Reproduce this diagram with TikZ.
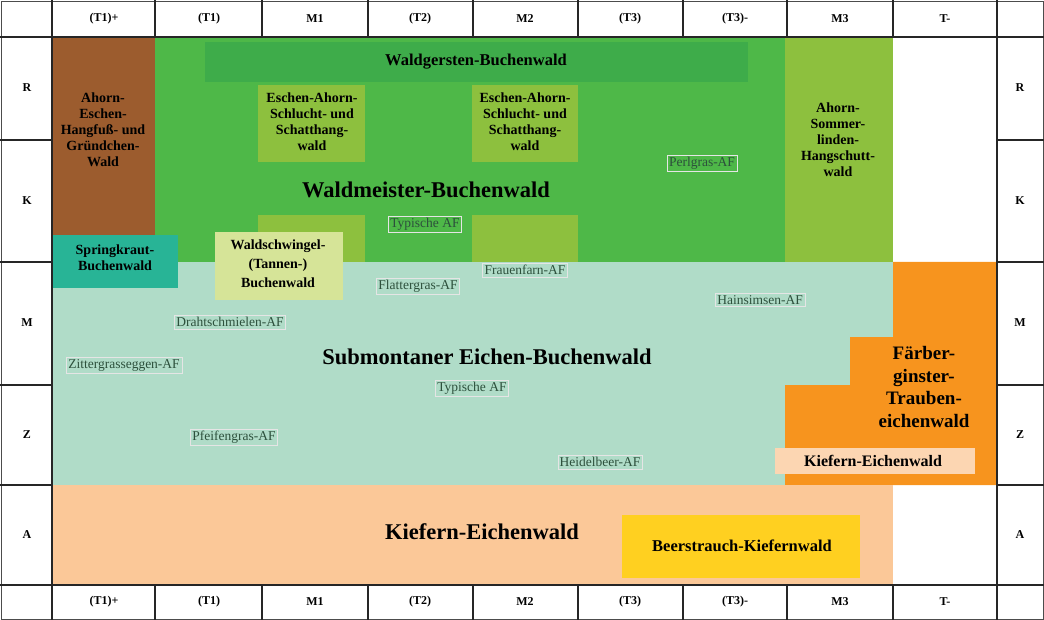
\documentclass[tikz,border=0pt]{standalone}
\usepackage{fontspec}
\setmainfont{Liberation Serif}
\usetikzlibrary{positioning}

\definecolor{brownwald}{RGB}{156,92,46}
\definecolor{buchegreen}{RGB}{78,184,72}
\definecolor{gerstegreen}{RGB}{62,172,74}
\definecolor{olivegreen}{RGB}{141,192,62}
\definecolor{paleblue}{RGB}{176,220,200}
\definecolor{tealwald}{RGB}{40,180,150}
\definecolor{paleyellow}{RGB}{214,228,152}
\definecolor{orangewald}{RGB}{247,148,30}
\definecolor{peachwald}{RGB}{251,200,152}
\definecolor{lightpeach}{RGB}{252,214,178}
\definecolor{beeryellow}{RGB}{255,208,32}
\definecolor{afgray}{RGB}{45,80,60}

\begin{document}
\begin{tikzpicture}[x=1pt, y=-1pt,
    unit/.style={font=\fontsize{14}{16}\selectfont\bfseries, align=center, inner sep=0pt},
    big/.style={font=\fontsize{22.5}{26}\selectfont\bfseries, inner sep=0pt},
    af/.style={font=\fontsize{13.5}{15}\selectfont, text=afgray, draw=black!10, line width=0.3pt, inner sep=2pt},
    axis/.style={font=\fontsize{12}{14}\selectfont\bfseries, inner sep=0pt},
    grid/.style={black!85, line width=1.6pt}]
    \useasboundingbox (0,0) rectangle (1044,620);

    % Waldmeister-Buchenwald
    \fill[buchegreen] (155,37) rectangle (785,262);
    \fill[gerstegreen] (205,42) rectangle (748,82);
    \fill[olivegreen] (258,85) rectangle (365,162);
    \fill[olivegreen] (472,85) rectangle (578,162);
    \fill[olivegreen] (258,215) rectangle (365,262);
    \fill[olivegreen] (472,215) rectangle (578,262);

    % Hangwaelder
    \fill[brownwald] (52,37) rectangle (155,235);
    \fill[olivegreen] (785,37) rectangle (893,262);

    % Submontaner Eichen-Buchenwald
    \fill[paleblue] (52,262) rectangle (893,485);
    \fill[tealwald] (52,235) rectangle (178,288);
    \fill[paleyellow] (215,232) rectangle (343,300);

    % Faerberginster-Traubeneichenwald
    \fill[orangewald] (893,262) -- (997,262) -- (997,485) -- (785,485)
        -- (785,385) -- (850,385) -- (850,337) -- (893,337) -- cycle;
    \fill[lightpeach] (775,448) rectangle (975,474);

    % Kiefern-Eichenwald
    \fill[peachwald] (52,485) rectangle (893,585);
    \fill[beeryellow] (622,515) rectangle (860,578);

    % Grid
    \draw[black!70, line width=0.8pt] (1,1) rectangle (1043,619);
    \draw[grid] (0,37) -- (1044,37);
    \draw[grid] (0,585) -- (1044,585);
    \draw[grid] (52,0) -- (52,620);
    \draw[grid] (997,0) -- (997,620);
    \draw[grid] (155,0) -- (155,37) (262,0) -- (262,37) (368,0) -- (368,37)
        (473,0) -- (473,37) (578,0) -- (578,37) (683,0) -- (683,37)
        (787,0) -- (787,37) (893,0) -- (893,37);
    \draw[grid] (155,585) -- (155,620) (262,585) -- (262,620) (368,585) -- (368,620)
        (473,585) -- (473,620) (578,585) -- (578,620) (683,585) -- (683,620)
        (787,585) -- (787,620) (893,585) -- (893,620);
    \draw[grid] (0,140) -- (52,140) (0,262) -- (52,262) (0,385) -- (52,385) (0,485) -- (52,485);
    \draw[grid] (997,140) -- (1044,140) (997,262) -- (1044,262) (997,385) -- (1044,385) (997,485) -- (1044,485);

    % Feuchtestufen oben
    \node[axis] (top1) at (104,19) {(T1)+};
    \node[axis] (top2) at (209,19) {(T1)};
    \node[axis] (top3) at (315,19) {M1};
    \node[axis] (top4) at (420,19) {(T2)};
    \node[axis] (top5) at (525,19) {M2};
    \node[axis] (top6) at (630,19) {(T3)};
    \node[axis] (top7) at (735,19) {(T3)-};
    \node[axis] (top8) at (840,19) {M3};
    \node[axis] (top9) at (945,19) {T-};

    % Feuchtestufen unten
    \node[axis] (bot1) at (104,602) {(T1)+};
    \node[axis] (bot2) at (209,602) {(T1)};
    \node[axis] (bot3) at (315,602) {M1};
    \node[axis] (bot4) at (420,602) {(T2)};
    \node[axis] (bot5) at (525,602) {M2};
    \node[axis] (bot6) at (630,602) {(T3)};
    \node[axis] (bot7) at (735,602) {(T3)-};
    \node[axis] (bot8) at (840,602) {M3};
    \node[axis] (bot9) at (945,602) {T-};

    % Naehrkraftstufen
    \node[axis] (left1) at (27,88) {R};
    \node[axis] (left2) at (27,201) {K};
    \node[axis] (left3) at (27,323) {M};
    \node[axis] (left4) at (27,435) {Z};
    \node[axis] (left5) at (27,535) {A};
    \node[axis] (right1) at (1020,88) {R};
    \node[axis] (right2) at (1020,201) {K};
    \node[axis] (right3) at (1020,323) {M};
    \node[axis] (right4) at (1020,435) {Z};
    \node[axis] (right5) at (1020,535) {A};

    % Waldgesellschaften
    \node[unit, font=\fontsize{16.5}{18}\selectfont\bfseries] (gerste) at (476,62) {Waldgersten-Buchenwald};
    \node[unit] (hangfuss) at (103,130) {Ahorn-\\Eschen-\\Hangfuß- und\\Gründchen-\\Wald};
    \node[unit] (schlucht1) at (312,122) {Eschen-Ahorn-\\Schlucht- und\\Schatthang-\\wald};
    \node[unit] (schlucht2) at (525,122) {Eschen-Ahorn-\\Schlucht- und\\Schatthang-\\wald};
    \node[unit] (hangschutt) at (838,140) {Ahorn-\\Sommer-\\linden-\\Hangschutt-\\wald};
    \node[big] (waldmeister) at (426,190) {Waldmeister-Buchenwald};
    \node[af] (perlgras) at (702,163) {Perlgras-AF};
    \node[af] (typisch1) at (425,224) {Typische AF};
    \node[unit] (springkraut) at (115,258) {Springkraut-\\Buchenwald};
    \node[unit, font=\fontsize{14}{19}\selectfont\bfseries] (schwingel) at (278,264) {Waldschwingel-\\(Tannen-)\\Buchenwald};
    \node[af] (flattergras) at (418,286) {Flattergras-AF};
    \node[af] (frauenfarn) at (525,270) {Frauenfarn-AF};
    \node[af] (hainsimse) at (760,300) {Hainsimsen-AF};
    \node[af] (schmiele) at (230,322) {Drahtschmielen-AF};
    \node[af] (zittergras) at (124,365) {Zittergrasseggen-AF};
    \node[big] (submontan) at (487,357) {Submontaner Eichen-Buchenwald};
    \node[af] (typisch2) at (472,388) {Typische AF};
    \node[af] (pfeifengras) at (234,437) {Pfeifengras-AF};
    \node[af] (heidelbeer) at (600,462) {Heidelbeer-AF};
    \node[unit, font=\fontsize{19}{22.5}\selectfont\bfseries] (faerber) at (924,387) {Färber-\\ginster-\\Trauben-\\eichenwald};
    \node[unit, font=\fontsize{16}{18}\selectfont\bfseries] (kiefer1) at (873,461) {Kiefern-Eichenwald};
    \node[big] (kiefer2) at (482,532) {Kiefern-Eichenwald};
    \node[unit, font=\fontsize{16.5}{18}\selectfont\bfseries] (beerstrauch) at (742,546) {Beerstrauch-Kiefernwald};
\end{tikzpicture}
\end{document}
